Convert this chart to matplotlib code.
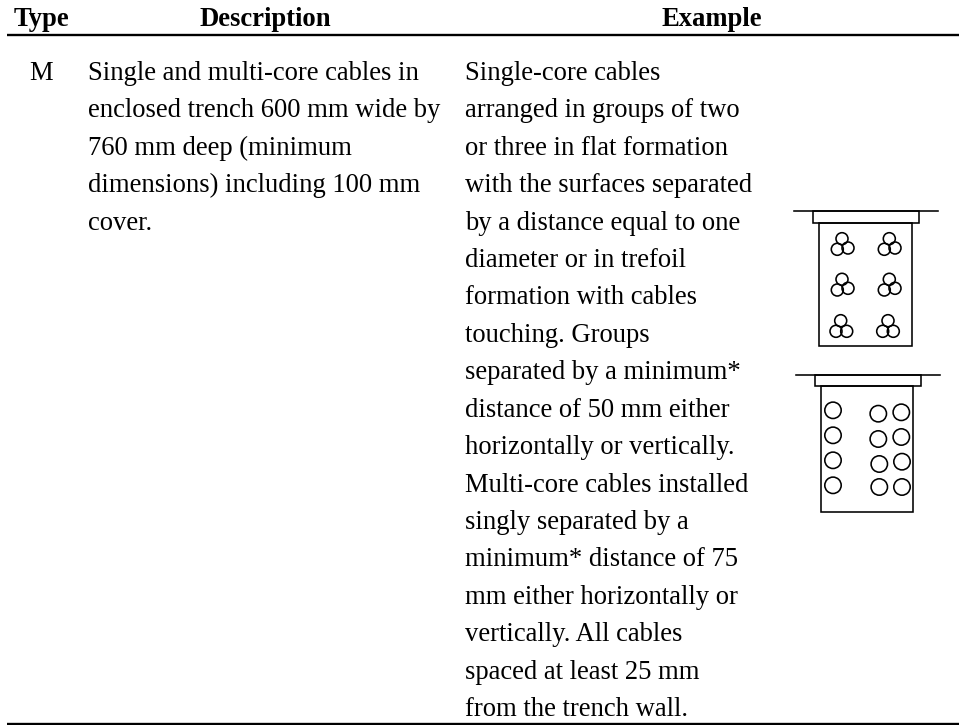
import matplotlib
matplotlib.use("Agg")
import matplotlib.pyplot as plt
from matplotlib.patches import Circle, Rectangle

headers = ["Type", "Description", "Example"]
type_label = "M"
description = [
    "Single and multi-core cables in",
    "enclosed trench 600 mm wide by",
    "760 mm deep (minimum",
    "dimensions) including 100 mm",
    "cover.",
]
example = [
    "Single-core cables",
    "arranged in groups of two",
    "or three in flat formation",
    "with the surfaces separated",
    "by a distance equal to one",
    "diameter or in trefoil",
    "formation with cables",
    "touching. Groups",
    "separated by a minimum*",
    "distance of 50 mm either",
    "horizontally or vertically.",
    "Multi-core cables installed",
    "singly separated by a",
    "minimum* distance of 75",
    "mm either horizontally or",
    "vertically. All cables",
    "spaced at least 25 mm",
    "from the trench wall.",
]

# cable centres in pixels
trefoil_x = [842, 837.3, 848, 889.3, 884.3, 895]
trefoil_top = [238.7, 249.3, 248, 238.7, 249.3, 248]
trefoil_mid = [279.3, 290, 288.3, 279.3, 290, 288.3]
trefoil_bot = [320.7, 331.3, 331.3, 320.7, 331.3, 331.3]
trefoil_x_bot = [840.7, 836, 846.7, 888, 882.7, 893.3]

single_x = [833, 833, 833, 833, 878.3, 878.3, 879.3, 879.3, 901.3, 901.3, 902, 902]
single_y = [410.3, 435.3, 460.3, 485.3, 413.7, 439, 464, 487, 412.3, 437, 461.7, 487]

fig = plt.figure(figsize=(9.59, 7.25), dpi=100)
ax = fig.add_axes([0, 0, 1, 1])
ax.set_xlim(0, 959)
ax.set_ylim(725, 0)
ax.axis("off")

fs = 19.15
font = "Liberation Serif"
line_h = 37.41
y0 = 80

ax.text(41.5, 26, headers[0], ha="center", va="baseline", family=font, size=fs, weight="bold")
ax.text(265, 26, headers[1], ha="center", va="baseline", family=font, size=fs, weight="bold")
ax.text(711.5, 26, headers[2], ha="center", va="baseline", family=font, size=fs, weight="bold")

ax.plot([7, 959], [34.7, 34.7], color="black", lw=1.7, solid_capstyle="butt")
ax.plot([7, 959], [723.8, 723.8], color="black", lw=1.7, solid_capstyle="butt")

ax.text(41, y0, type_label, ha="center", va="baseline", family=font, size=fs)
for i, s in enumerate(description):
    ax.text(88, y0 + i * line_h, s, ha="left", va="baseline", family=font, size=fs)
for i, s in enumerate(example):
    ax.text(465, y0 + i * line_h, s, ha="left", va="baseline", family=font, size=fs)

lw = 1.15
# upper trench
ax.plot([794, 938], [211, 211], color="black", lw=lw)
ax.add_patch(Rectangle((813, 211), 106, 12, fill=False, ec="black", lw=lw))
ax.add_patch(Rectangle((819, 223), 93, 123, fill=False, ec="black", lw=lw))
for cx, cy in zip(trefoil_x + trefoil_x + trefoil_x_bot,
                  trefoil_top + trefoil_mid + trefoil_bot):
    ax.add_patch(Circle((cx, cy), 6, fill=False, ec="black", lw=lw))

# lower trench
ax.plot([796, 940], [374.7, 374.7], color="black", lw=lw)
ax.add_patch(Rectangle((814.7, 375), 106.6, 11, fill=False, ec="black", lw=lw))
ax.add_patch(Rectangle((820.7, 386), 92.6, 125.7, fill=False, ec="black", lw=lw))
for cx, cy in zip(single_x, single_y):
    ax.add_patch(Circle((cx, cy), 8.2, fill=False, ec="black", lw=lw))

fig.savefig("out.png", dpi=100)
